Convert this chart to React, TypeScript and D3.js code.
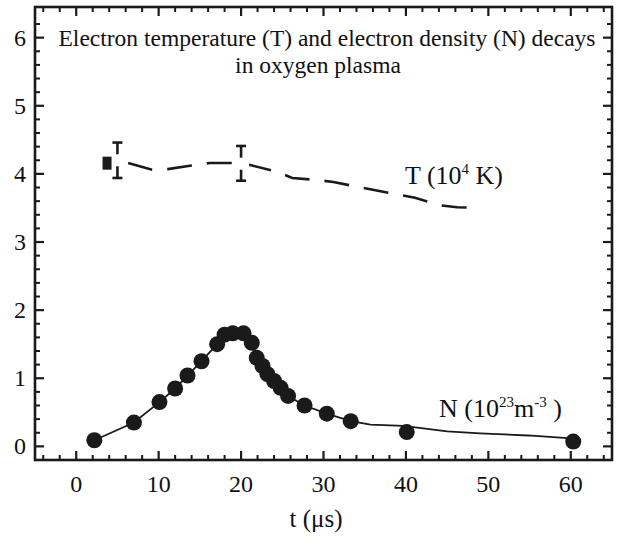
import React from "react";
import * as d3 from "d3";

// ---- data ----
const nTimes = [2.2, 7.0, 10.1, 12.0, 13.5, 15.2, 17.1, 18.0, 19.0, 20.3, 21.3, 21.9, 22.6, 23.2, 24.0, 24.8, 25.7, 27.7, 30.4, 33.3, 40.1, 60.3];
const nValues = [0.09, 0.35, 0.65, 0.85, 1.04, 1.25, 1.5, 1.64, 1.66, 1.66, 1.52, 1.3, 1.18, 1.06, 0.96, 0.86, 0.74, 0.6, 0.48, 0.37, 0.21, 0.07];
// fitted N line (tail deviates slightly from points)
const nLineTimes = [2.2, 7.0, 10.1, 12.0, 13.5, 15.2, 17.1, 18.0, 19.0, 20.3, 21.3, 21.9, 22.6, 23.2, 24.0, 24.8, 25.7, 27.7, 30.4, 33.3, 35.7, 39.7, 45.0, 49.0, 54.8, 59.6, 60.3];
const nLineValues = [0.09, 0.35, 0.65, 0.85, 1.04, 1.25, 1.5, 1.64, 1.66, 1.66, 1.52, 1.3, 1.18, 1.06, 0.96, 0.86, 0.74, 0.6, 0.48, 0.37, 0.32, 0.3, 0.22, 0.19, 0.16, 0.12, 0.07];
const tTimes = [6.3, 9.2, 11.1, 13.8, 16.2, 19.0, 21.1, 24.4, 26.2, 29.3, 31.2, 39.3, 41.1, 44.1, 46.2, 49.0];
const tValues = [4.16, 4.06, 4.07, 4.12, 4.16, 4.16, 4.13, 4.03, 3.94, 3.91, 3.88, 3.69, 3.65, 3.54, 3.51, 3.5];
const errTimes = [5, 20];
const errCenter = [4.2, 4.15];
const errLow = [3.94, 3.9];
const errHigh = [4.46, 4.41];
const markerTime = [3.8];
const markerValue = [4.15];
const xTickValues = [0, 10, 20, 30, 40, 50, 60];
const yTickValues = [0, 1, 2, 3, 4, 5, 6];
const titleLines = ["Electron temperature (T) and electron density (N) decays", "in oxygen plasma"];

const W = 617;
const H = 551;
const left = 35, right = 612, top = 7, bottom = 460;
const FONT = "'Liberation Serif', 'Times New Roman', serif";
const txt = { fontFamily: FONT, fill: "#111" } as React.CSSProperties;

export default function App() {
  const x = d3.scaleLinear().domain([-5, 65]).range([left, right]);
  const y = d3.scaleLinear().domain([-0.2, 6.45]).range([bottom, top]);

  const xMinor = d3.range(-4, 65, 2).filter((v) => v % 10 !== 0);
  const yMinor = d3.range(0, 64, 2).map((v) => Math.round(v) / 10).filter((v) => Math.abs(v - Math.round(v)) > 1e-6);

  const nLine = d3.line<number>().x((d, i) => x(nLineTimes[i])).y((d, i) => y(nLineValues[i]))(nLineValues) || "";
  const tLine = d3.line<number>().x((d, i) => x(tTimes[i])).y((d, i) => y(tValues[i]))(tValues) || "";

  const stroke = "#1a1a1a";
  const MAJ = 9, MIN = 5;

  return (
    <svg width={W} height={H} style={{ position: "absolute", left: 0, top: 0, background: "#fff", fontFamily: FONT }}>
      <rect x={0} y={0} width={W} height={H} fill="#fff" />
      {/* frame */}
      <rect x={left} y={top} width={right - left} height={bottom - top} fill="none" stroke={stroke} strokeWidth={2.6} />
      {xTickValues.map((v) => (
        <g key={"xt" + v}>
          <line x1={x(v)} x2={x(v)} y1={bottom} y2={bottom - MAJ} stroke={stroke} strokeWidth={2.2} />
          <line x1={x(v)} x2={x(v)} y1={top} y2={top + MAJ} stroke={stroke} strokeWidth={2.2} />
          <text x={x(v)} y={492} textAnchor="middle" fontSize={24} style={txt}>{v}</text>
        </g>
      ))}
      {xMinor.map((v) => (
        <g key={"xm" + v}>
          <line x1={x(v)} x2={x(v)} y1={bottom} y2={bottom - MIN} stroke={stroke} strokeWidth={2} />
          <line x1={x(v)} x2={x(v)} y1={top} y2={top + MIN} stroke={stroke} strokeWidth={2} />
        </g>
      ))}
      {yTickValues.map((v) => (
        <g key={"yt" + v}>
          <line x1={left} x2={left + MAJ} y1={y(v)} y2={y(v)} stroke={stroke} strokeWidth={2.2} />
          <line x1={right} x2={right - MAJ} y1={y(v)} y2={y(v)} stroke={stroke} strokeWidth={2.2} />
          <text x={26} y={y(v) + 8} textAnchor="end" fontSize={24} style={txt}>{v}</text>
        </g>
      ))}
      {yMinor.map((v) => (
        <g key={"ym" + v}>
          <line x1={left} x2={left + MIN} y1={y(v)} y2={y(v)} stroke={stroke} strokeWidth={2} />
          <line x1={right} x2={right - MIN} y1={y(v)} y2={y(v)} stroke={stroke} strokeWidth={2} />
        </g>
      ))}
      {/* title */}
      <text x={327} y={46} textAnchor="middle" fontSize={23.5} style={txt}>{titleLines[0]}</text>
      <text x={318} y={72.5} textAnchor="middle" fontSize={23.5} style={txt}>{titleLines[1]}</text>

      {/* T curve */}
      <path d={tLine} fill="none" stroke={stroke} strokeWidth={2.6} strokeDasharray="25 15" />
      {errTimes.map((t, i) => (
        <g key={"e" + i}>
          <line x1={x(t)} x2={x(t)} y1={y(errLow[i])} y2={y(errHigh[i])} stroke={stroke} strokeWidth={2.6} />
          <line x1={x(t) - 5} x2={x(t) + 5} y1={y(errLow[i])} y2={y(errLow[i])} stroke={stroke} strokeWidth={2.6} />
          <line x1={x(t) - 5} x2={x(t) + 5} y1={y(errHigh[i])} y2={y(errHigh[i])} stroke={stroke} strokeWidth={2.6} />
          <rect x={x(t) - 8} y={y(errCenter[i]) - 6} width={16} height={12} fill="#fff" />
        </g>
      ))}
      {markerTime.map((t, i) => (
        <rect key={"m" + i} x={x(t) - 5} y={y(markerValue[i]) - 7} width={9} height={13} fill={stroke} />
      ))}
      <text x={405} y={184} fontSize={26} style={txt}>
        T (10<tspan dy={-10} fontSize={15}>4</tspan><tspan dy={10}> K)</tspan>
      </text>

      {/* N curve */}
      <path d={nLine} fill="none" stroke={stroke} strokeWidth={1.8} />
      {nTimes.map((t, i) => (
        <circle key={"n" + i} cx={x(t)} cy={y(nValues[i])} r={8} fill={stroke} />
      ))}
      <text x={439} y={417} fontSize={26} style={txt}>
        N (10<tspan dy={-10} fontSize={15}>23</tspan><tspan dy={10}>m</tspan><tspan dy={-10} fontSize={15}>-3</tspan><tspan dy={10}> )</tspan>
      </text>

      <text x={316} y={527} textAnchor="middle" fontSize={25} style={txt}>t (μs)</text>
    </svg>
  );
}
